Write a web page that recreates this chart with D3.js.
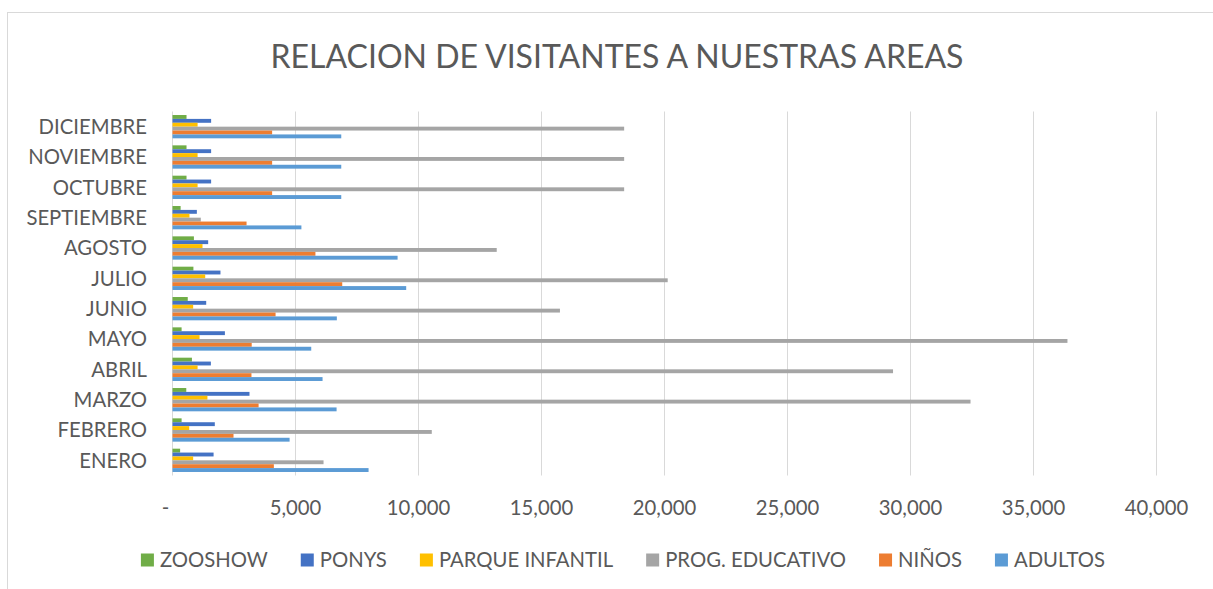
<!DOCTYPE html>
<html>
<head>
<meta charset="utf-8">
<script src="https://cdn.jsdelivr.net/npm/d3@7"></script>
<style>
  body { margin: 0; background: #fff; }
  svg { display: block; font-family: Lato, 'Open Sans', sans-serif; }
</style>
</head>
<body>
<div id="chart"></div>
<script>
const months = ['ENERO', 'FEBRERO', 'MARZO', 'ABRIL', 'MAYO', 'JUNIO', 'JULIO ',
  'AGOSTO', 'SEPTIEMBRE', 'OCTUBRE', 'NOVIEMBRE', 'DICIEMBRE'];

const seriesNames = ['ZOOSHOW', 'PONYS', 'PARQUE INFANTIL', 'PROG. EDUCATIVO', 'NIÑOS', 'ADULTOS'];
const seriesColors = ['#70AD47', '#4472C4', '#FFC000', '#A5A5A5', '#ED7D31', '#5B9BD5'];

// one value per month, ENERO .. DICIEMBRE
const zooshow = [310, 370, 560, 790, 370, 620, 850, 870, 330, 570, 570, 570];
const ponys = [1670, 1720, 3130, 1560, 2130, 1370, 1950, 1450, 990, 1570, 1570, 1570];
const parqueInfantil = [840, 680, 1420, 1020, 1100, 840, 1330, 1220, 690, 1020, 1020, 1020];
const progEducativo = [6140, 10540, 32440, 29290, 36380, 15750, 20130, 13180, 1150, 18360, 18360, 18360];
const ninos = [4120, 2480, 3500, 3210, 3220, 4190, 6900, 5810, 3010, 4050, 4050, 4050];
const adultos = [7970, 4760, 6670, 6100, 5640, 6680, 9500, 9150, 5240, 6860, 6860, 6860];

const xTicks = [0, 5000, 10000, 15000, 20000, 25000, 30000, 35000, 40000];

const seriesValues = [zooshow, ponys, parqueInfantil, progEducativo, ninos, adultos];

const width = 1213;
const height = 589;
const plot = { left: 172, right: 1156, top: 111.5, bottom: 475.5 };
const textColor = '#595959';
const gridColor = '#D9D9D9';
const labelSize = 20.3;

const svg = d3.select('#chart').append('svg')
  .attr('width', width)
  .attr('height', height);

// chart frame
svg.append('rect')
  .attr('x', 7.5)
  .attr('y', 12.5)
  .attr('width', width)
  .attr('height', height)
  .attr('fill', '#fff')
  .attr('stroke', gridColor)
  .attr('stroke-width', 1);

svg.append('text')
  .attr('x', 617)
  .attr('y', 68)
  .attr('text-anchor', 'middle')
  .attr('fill', textColor)
  .attr('font-size', 32)
  .text('RELACION DE VISITANTES A NUESTRAS AREAS');

const xScale = d3.scaleLinear()
  .domain([0, 40000])
  .range([plot.left, plot.right]);

// months from bottom (ENERO) to top (DICIEMBRE)
const yScale = d3.scaleBand()
  .domain(months.slice().reverse())
  .range([plot.top, plot.bottom])
  .paddingInner(0.232)
  .paddingOuter(0.116);

const barScale = d3.scaleBand()
  .domain(d3.range(seriesNames.length))
  .range([0, yScale.bandwidth()]);

// gridlines
svg.append('g')
  .selectAll('line')
  .data(xTicks)
  .enter().append('line')
  .attr('x1', d => Math.round(xScale(d)) + 0.5)
  .attr('x2', d => Math.round(xScale(d)) + 0.5)
  .attr('y1', plot.top)
  .attr('y2', plot.bottom)
  .attr('stroke', gridColor)
  .attr('stroke-width', 1);

const xAxis = d3.axisBottom(xScale)
  .tickValues(xTicks)
  .tickSize(0)
  .tickPadding(0)
  .tickFormat(d => d === 0 ? '-' : d3.format(',')(d));

const gx = svg.append('g')
  .attr('transform', 'translate(0,' + plot.bottom + ')')
  .call(xAxis);
gx.select('.domain').remove();
gx.selectAll('text')
  .attr('y', 39)
  .attr('dy', 0)
  .attr('dx', d => d === 0 ? -7 : 0)
  .attr('fill', textColor)
  .attr('font-size', labelSize)
  .attr('font-family', 'Lato, sans-serif');

const yAxis = d3.axisLeft(yScale)
  .tickSize(0)
  .tickPadding(0);

const gy = svg.append('g')
  .attr('transform', 'translate(147,0)')
  .call(yAxis);
gy.select('.domain').remove();
gy.selectAll('text')
  .attr('dy', '0.36em')
  .attr('fill', textColor)
  .attr('font-size', labelSize)
  .attr('font-family', 'Lato, sans-serif');

// bars
const groups = svg.append('g')
  .selectAll('g')
  .data(months)
  .enter().append('g')
  .attr('transform', d => 'translate(0,' + yScale(d) + ')');

groups.selectAll('rect')
  .data((m, i) => seriesValues.map((vals, s) => ({ s: s, v: vals[i] })))
  .enter().append('rect')
  .attr('x', xScale(0) + 0.5)
  .attr('y', d => barScale(d.s))
  .attr('width', d => xScale(d.v) - xScale(0))
  .attr('height', barScale.bandwidth())
  .attr('fill', d => seriesColors[d.s]);

// legend
const legend = svg.append('g')
  .attr('font-size', labelSize)
  .attr('fill', textColor);

const items = legend.selectAll('g')
  .data(seriesNames)
  .enter().append('g');

items.append('rect')
  .attr('width', 13)
  .attr('height', 13)
  .attr('y', 553.5)
  .attr('fill', (d, i) => seriesColors[i]);

items.append('text')
  .attr('x', 19)
  .attr('y', 567)
  .text(d => d);

let offset = 0;
const widths = [];
items.each(function() {
  const w = 19 + d3.select(this).select('text').node().getComputedTextLength();
  widths.push(w);
});
const gap = 33;
const total = d3.sum(widths) + gap * (widths.length - 1);
const start = 623 - total / 2;
items.attr('transform', (d, i) => {
  const x = start + offset;
  offset += widths[i] + gap;
  return 'translate(' + x + ',0)';
});
</script>
</body>
</html>
